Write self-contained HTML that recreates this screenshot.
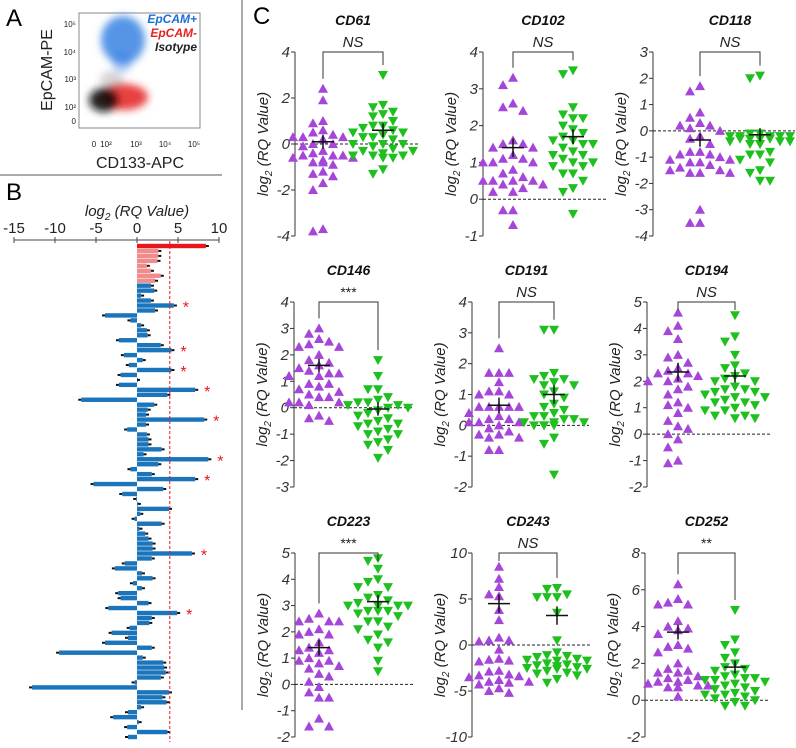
<!DOCTYPE html>
<html><head><meta charset="utf-8"><style>
html,body{margin:0;padding:0;background:#fff;}
svg{display:block;font-family:"Liberation Sans",sans-serif;}
</style></head><body>
<svg id="fig" width="796" height="748" viewBox="0 0 796 748" xmlns="http://www.w3.org/2000/svg">
<defs><filter id="bl" x="-50%" y="-50%" width="200%" height="200%"><feGaussianBlur stdDeviation="4"/></filter></defs>
<g>
<text x="6" y="26" font-size="24">A</text>
<rect x="79" y="13" width="121" height="115" fill="#fff" stroke="#888" stroke-width="1"/>
<g filter="url(#bl)">
<ellipse cx="123" cy="40" rx="22" ry="24" fill="#2d7be0" opacity="0.8"/>
<ellipse cx="122" cy="62" rx="10" ry="10" fill="#2d7be0" opacity="0.4"/>
<ellipse cx="124" cy="97" rx="24" ry="13" fill="#e52222" opacity="0.85"/>
<ellipse cx="104" cy="100" rx="15" ry="12" fill="#111" opacity="0.9"/>
<ellipse cx="112" cy="80" rx="12" ry="9" fill="#555" opacity="0.25"/>
</g>
<text x="197" y="23" font-size="12" font-weight="bold" font-style="italic" fill="#1c6fd8" text-anchor="end">EpCAM+</text>
<text x="197" y="37" font-size="12" font-weight="bold" font-style="italic" fill="#e52222" text-anchor="end">EpCAM-</text>
<text x="197" y="51" font-size="12" font-weight="bold" font-style="italic" fill="#222" text-anchor="end">Isotype</text>
<g font-size="8" fill="#222" text-anchor="end">
<text x="76" y="27">10⁵</text><text x="76" y="55">10⁴</text><text x="76" y="82">10³</text><text x="76" y="110">10²</text><text x="76" y="124">0</text></g>
<g font-size="8" fill="#222" text-anchor="middle">
<text x="94" y="147">0</text><text x="106" y="147">10²</text><text x="136" y="147">10³</text><text x="165" y="147">10⁴</text><text x="194" y="147">10⁵</text></g>
<text x="140" y="168" font-size="16" fill="#222" text-anchor="middle">CD133-APC</text>
<text transform="translate(52,70) rotate(-90)" font-size="16" fill="#222" text-anchor="middle">EpCAM-PE</text>
</g>
<line x1="0" y1="175" x2="222" y2="175" stroke="#555" stroke-width="1"/>
<line x1="242" y1="0" x2="242" y2="710" stroke="#555" stroke-width="1"/>
<text x="6" y="200" font-size="24">B</text>
<g id="panelB"></g>
<text x="253" y="24" font-size="24">C</text>
<g id="panelC"></g>
</svg>
<script>
const bValues = [8.4,2.6,2.6,2.5,1.2,1.7,2.9,2.2,
1.7,2.1,0.5,1.7,4.5,2.2,-3.9,-0.8,0.5,1.2,1.3,-2.2,2.9,4.2,-1.6,0.7,-1.0,4.2,-2.0,
0.0,-2.2,7.1,3.7,-6.8,2.1,1.3,1.1,8.2,1.1,-1.2,1.2,1.4,1.4,3.0,0.8,8.7,2.6,-0.8,1.8,7.1,-5.3,3.2,-1.8,-0.1,0.1,
3.9,0.4,-0.3,3.0,0.3,1.0,1.4,1.9,1.9,6.7,1.8,-1.5,-2.7,0.6,1.9,-0.5,0.6,-2.3,-2.0,1.4,-3.5,4.9,1.8,1.5,
-0.9,-3.1,-1.1,-3.9,1.8,-9.5,0.7,3.2,3.3,3.5,2.9,-0.3,-12.8,3.9,3.1,3.6,0.5,-1.1,-2.9,0.2,-1.2,3.7,-1.1];
const bGroup = bValues.map((v,i)=> i===0 ? 'strong' : (i<8 ? 'pos' : 'test'));
const bSig = [12,21,25,29,35,43,47,62,74];
const bTicks = [-15,-10,-5,0,5,10];
const bThreshold = 4;

const cd61P=[2.4,1.9,1.0,0.9,0.6,0.5,0.4,0.3,0.3,0.2,0.0,-0.1,0.0,-0.3,-0.4,-0.5,-0.5,-0.6,-0.6,-0.7,-0.8,-0.8,-0.9,-1.2,-1.3,-1.4,-1.7,-2.0,-3.8,-3.7,0.3,-0.5];
const cd61G=[3.0,1.7,1.6,1.4,1.3,1.2,1.0,0.8,0.8,0.7,0.6,0.5,0.4,0.3,0.3,0.2,0.0,0.0,0.0,-0.1,-0.2,-0.3,-0.3,-0.4,-0.5,-0.5,-0.5,-0.6,-0.6,-1.1,-1.3,0.5];
const cd102P=[3.3,3.1,2.6,2.5,2.4,1.6,1.5,1.5,1.4,1.4,1.2,1.1,1.0,1.0,1.0,0.8,0.7,0.6,0.5,0.5,0.5,0.5,0.4,0.4,0.3,0.2,0.2,-0.3,-0.3,-0.7,1.1];
const cd102G=[3.5,3.4,2.5,2.3,2.2,2.2,2.0,1.9,1.8,1.7,1.6,1.6,1.5,1.5,1.4,1.3,1.2,1.2,1.1,1.0,1.0,0.9,0.9,0.7,0.7,0.5,0.3,0.2,-0.4];
const cd118P=[1.7,1.5,0.7,0.5,0.3,0.2,0.2,0.1,0.0,-0.2,-0.3,-0.5,-0.8,-0.8,-0.9,-0.9,-1.0,-1.1,-1.1,-1.2,-1.2,-1.3,-1.4,-1.5,-1.5,-1.6,-1.6,-1.6,-3.0,-3.5,-3.5];
const cd118G=[2.1,2.0,-0.1,-0.1,-0.2,-0.2,-0.2,-0.2,-0.3,-0.3,-0.3,-0.4,-0.4,-0.4,-0.5,-0.5,-0.5,-0.8,-0.9,-0.9,-1.1,-1.2,-1.5,-1.6,-1.9,-1.9,-0.2,-0.3];
const cd146P=[3.0,2.8,2.6,2.5,2.4,2.3,2.3,2.0,1.8,1.7,1.6,1.5,1.4,1.3,1.3,1.2,1.2,0.9,0.9,0.8,0.7,0.6,0.5,0.4,0.4,0.2,0.2,0.2,0.1,-0.3,-0.4,-0.5];
const cd146G=[1.8,1.2,0.7,0.7,0.4,0.3,0.2,0.2,0.1,0.1,0.0,0.0,-0.1,-0.2,-0.3,-0.4,-0.6,-0.6,-0.7,-0.8,-0.9,-1.0,-1.0,-1.2,-1.3,-1.4,-1.6,-1.9,-0.5];
const cd191P=[2.5,1.7,1.7,1.7,1.4,1.1,1.1,1.0,1.0,0.6,0.6,0.6,0.6,0.4,0.3,0.2,0.1,0.1,0.1,0.0,-0.1,-0.2,-0.3,-0.3,-0.4,-0.4,-0.8,-0.8,0.6,0.2];
const cd191G=[3.1,3.1,1.7,1.6,1.5,1.5,1.4,1.3,1.3,1.1,1.0,0.9,0.7,0.6,0.5,0.4,0.3,0.3,0.2,0.2,0.1,0.1,0.1,0.0,0.0,0.0,0.0,-0.4,-0.6,-1.6];
const cd194P=[4.6,4.1,3.9,3.6,3.0,2.9,2.7,2.5,2.4,2.3,2.3,2.2,2.1,2.0,2.0,1.8,1.7,1.5,1.2,1.1,1.0,0.8,0.5,0.3,0.2,0.0,-0.2,-0.5,-1.0,-1.1];
const cd194G=[4.5,3.7,3.5,3.0,2.6,2.5,2.3,2.2,2.1,2.0,2.0,1.8,1.7,1.7,1.6,1.6,1.5,1.4,1.4,1.3,1.2,1.2,1.1,1.0,0.9,0.9,0.7,0.7,0.6,0.6];
const cd223P=[2.7,2.4,2.4,2.4,2.5,2.1,2.0,1.9,1.9,1.6,1.4,1.3,1.3,1.2,1.0,0.9,0.9,0.8,0.7,0.6,0.4,0.3,0.1,-0.1,-0.3,-0.5,-0.5,-1.3,-1.6,-1.6];
const cd223G=[4.8,4.7,4.4,4.0,3.9,3.7,3.7,3.4,3.3,3.2,3.1,3.0,3.0,3.0,3.0,2.8,2.8,2.8,2.7,2.6,2.4,2.4,2.2,2.1,1.9,1.7,1.6,1.4,0.9,0.5];
const cd243P=[8.5,7.2,6.3,5.5,5.3,3.8,2.7,0.8,0.5,0.5,0.4,-0.5,-1.5,-1.6,-1.7,-1.8,-2.8,-2.9,-3.2,-3.3,-3.4,-3.5,-3.8,-4.0,-4.0,-4.1,-4.3,-4.7,-5.0,-5.2];
const cd243G=[6.2,6.1,5.5,5.2,5.2,5.2,3.5,0.5,-0.8,-1.1,-1.2,-1.3,-1.5,-1.6,-1.7,-1.7,-2.0,-2.1,-2.2,-2.3,-2.4,-2.5,-2.6,-2.6,-2.8,-3.0,-3.1,-3.3,-3.7,-4.1];
const cd252P=[6.3,5.5,5.3,5.2,5.2,4.3,4.0,3.9,3.8,3.6,3.0,2.9,2.8,2.6,2.0,1.7,1.6,1.5,1.5,1.3,1.2,1.1,1.0,1.0,0.9,0.8,0.8,0.7,0.7,0.2];
const cd252G=[4.9,3.3,3.0,2.6,2.3,2.0,1.8,1.7,1.6,1.4,1.3,1.2,1.2,1.1,1.1,1.0,0.9,0.8,0.7,0.6,0.5,0.4,0.3,0.3,0.2,0.1,0.0,-0.1,-0.3,-0.3];
const panelTitles=["CD61","CD102","CD118","CD146","CD191","CD194","CD223","CD243","CD252"];
const panelSig=["NS","NS","NS","***","NS","NS","***","NS","**"];
const panelMin=[-4,-1,-4,-3,-2,-2,-2,-10,-2];
const panelMax=[4,4,3,4,4,5,5,10,8];
const panelStep=[2,1,1,1,1,1,1,5,2];
const purpleMean=[0.1,1.4,-0.35,1.6,0.65,2.35,1.4,4.5,3.7];
const greenMean=[0.6,1.7,-0.15,-0.05,1.0,2.2,3.15,3.2,1.8];
const purpleSem=[0.3,0.25,0.25,0.25,0.25,0.35,0.3,1.0,0.4];
const greenSem=[0.3,0.2,0.25,0.25,0.3,0.25,0.25,1.0,0.35];
const purpleData=[cd61P,cd102P,cd118P,cd146P,cd191P,cd194P,cd223P,cd243P,cd252P];
const greenData=[cd61G,cd102G,cd118G,cd146G,cd191G,cd194G,cd223G,cd243G,cd252G];

const NS="http://www.w3.org/2000/svg";
function mk(tag,attrs,parent){const e=document.createElementNS(NS,tag);for(const k in attrs)e.setAttribute(k,attrs[k]);parent.appendChild(e);return e;}

(function(){
const g=document.getElementById('panelB');
const x0=137, ppu=8.2;
const bx=v=>x0+v*ppu;
const yTop=246, yBot=737;
const step=(yBot-yTop)/(bValues.length-1);
const by=i=>yTop+i*step;
const t=mk('text',{x:137,y:216,'font-size':15,'font-style':'italic','text-anchor':'middle',fill:'#222'},g);


t.innerHTML='log<tspan font-size="10" dy="4">2</tspan><tspan dy="-4"> (RQ Value)</tspan>';
const ax=mk('line',{x1:bx(-15),y1:240,x2:bx(10),y2:240,stroke:'#444','stroke-width':1},g);


bTicks.forEach(v=>{
 const tk=mk('line',{x1:bx(v),y1:237,x2:bx(v),y2:243,stroke:'#444'},g);
 
 
 const lb=mk('text',{x:bx(v),y:233,'font-size':15,'text-anchor':'middle',fill:'#222'},g);
 
 
 lb.textContent=String(v);
});
bValues.forEach((v,i)=>{
 const col=bGroup[i]==='strong'?'#e8161b':(bGroup[i]==='pos'?'#f28b8b':'#1a75bc');
 const x=Math.min(bx(0),bx(v)), w=Math.abs(bx(v)-bx(0));
 const r=mk('rect',{x:x,y:by(i)-2.2,width:Math.max(w,0.8),height:4.4,fill:col},g);
 
 
 const ex=bx(v), dir=v>=0?1:-1;
 const eb=mk('line',{x1:ex,y1:by(i),x2:ex+dir*3,y2:by(i),stroke:'#111','stroke-width':2},g);
 
 
});
const th=mk('line',{x1:bx(bThreshold),y1:241,x2:bx(bThreshold),y2:742,stroke:'#e8161b','stroke-width':1,'stroke-dasharray':'3,2'},g);


bSig.forEach(i=>{
 const s=mk('text',{x:bx(bValues[i])+12,y:by(i)+7,'font-size':16,fill:'#e8161b','text-anchor':'middle'},g);
 
 
 s.textContent='*';
});
})();

(function(){
const g=document.getElementById('panelC');
const axX=[295,483,653,294,472,647,295,472,645];
const pX=[323,513,700,319,499,678,319,499,678];
const gX=[383,573,760,378,554,735,378,557,735];
const rowTop=[52,302,553], rowBot=[236,487,737];
panelTitles.forEach((title,k)=>{
 const r=Math.floor(k/3), top=rowTop[r], bot=rowBot[r];
 const mn=panelMin[k], mx=panelMax[k];
 const sy=v=>top+(mx-v)/(mx-mn)*(bot-top);
 const pg=mk('g',{},g);
 
 
 const cx=(pX[k]+gX[k])/2;
 const tt=mk('text',{x:cx,y:top-27,'font-size':14,'font-weight':'bold','font-style':'italic','text-anchor':'middle',fill:'#111'},pg);
 
 
 tt.textContent=title;
 const ax=mk('line',{x1:axX[k],y1:top,x2:axX[k],y2:bot,stroke:'#333'},pg);
 
 
 for(let v=mn; v<=mx+1e-9; v+=panelStep[k]){
  const tk=mk('line',{x1:axX[k]-4,y1:sy(v),x2:axX[k],y2:sy(v),stroke:'#333'},pg);
  
  
  const lb=mk('text',{x:axX[k]-5,y:sy(v)+5,'font-size':15,'font-style':'italic','text-anchor':'end',fill:'#333'},pg);
  
  
  lb.textContent=String(v);
 }
 const yl=mk('text',{transform:`translate(${axX[k]-27},${(top+bot)/2}) rotate(-90)`,'font-size':15,'font-style':'italic','text-anchor':'middle',fill:'#222'},pg);
 
 
 yl.innerHTML='log<tspan font-size="10" dy="4">2</tspan><tspan dy="-4"> (RQ Value)</tspan>';
 const zl=mk('line',{x1:axX[k],y1:sy(0),x2:gX[k]+35,y2:sy(0),stroke:'#222','stroke-dasharray':'3,2'},pg);
 
 
 const groups=[[purpleData[k],pX[k],'#a646d8',true,purpleMean[k],purpleSem[k]],[greenData[k],gX[k],'#1fbf1f',false,greenMean[k],greenSem[k]]];
 const tops=[];
 groups.forEach(([data,x,col,up,m,sem])=>{
  const placed=[];
  const sorted=data.slice().sort((a,b)=>b-a);
  const offs=[0,-10,10,-20,20,-30,30];
  sorted.forEach(v=>{
   const y=sy(v);
   let best=0, bestCount=1e9;
   for(const o of offs){
    const c=placed.filter(p=>Math.abs(p[0]-o)<9.5&&Math.abs(p[1]-y)<8).length;
    if(c===0){best=o;bestCount=0;break;}
    if(c<bestCount){bestCount=c;best=o;}
   }
   placed.push([best,y]);
   const px=x+best;
   const pts=up?`${px},${y-5} ${px-5},${y+4} ${px+5},${y+4}`:`${px},${y+5} ${px-5},${y-4} ${px+5},${y-4}`;
   const tri=mk('polygon',{points:pts,fill:col},pg);
   
   
  });
  tops.push(sy(Math.max(...data)));
  const mh=mk('line',{x1:x-11,y1:sy(m),x2:x+11,y2:sy(m),stroke:'#111','stroke-width':1.5},pg);
  
  
  const mv=mk('line',{x1:x,y1:sy(m+sem),x2:x,y2:sy(m-sem),stroke:'#111','stroke-width':1.5},pg);
  
  
 });
 const br=mk('path',{d:`M${pX[k]},${Math.max(top+8,tops[0]-10)} V${top} H${gX[k]} V${Math.max(top+8,tops[1]-10)}`,fill:'none',stroke:'#333'},pg);
 
 
 const st=mk('text',{x:cx,y:top-5,'font-size':panelSig[k]==='NS'?15:14,'font-style':panelSig[k]==='NS'?'italic':'normal','text-anchor':'middle',fill:'#222'},pg);
 
 
 st.textContent=panelSig[k];
});
})();
</script>
</body></html>
